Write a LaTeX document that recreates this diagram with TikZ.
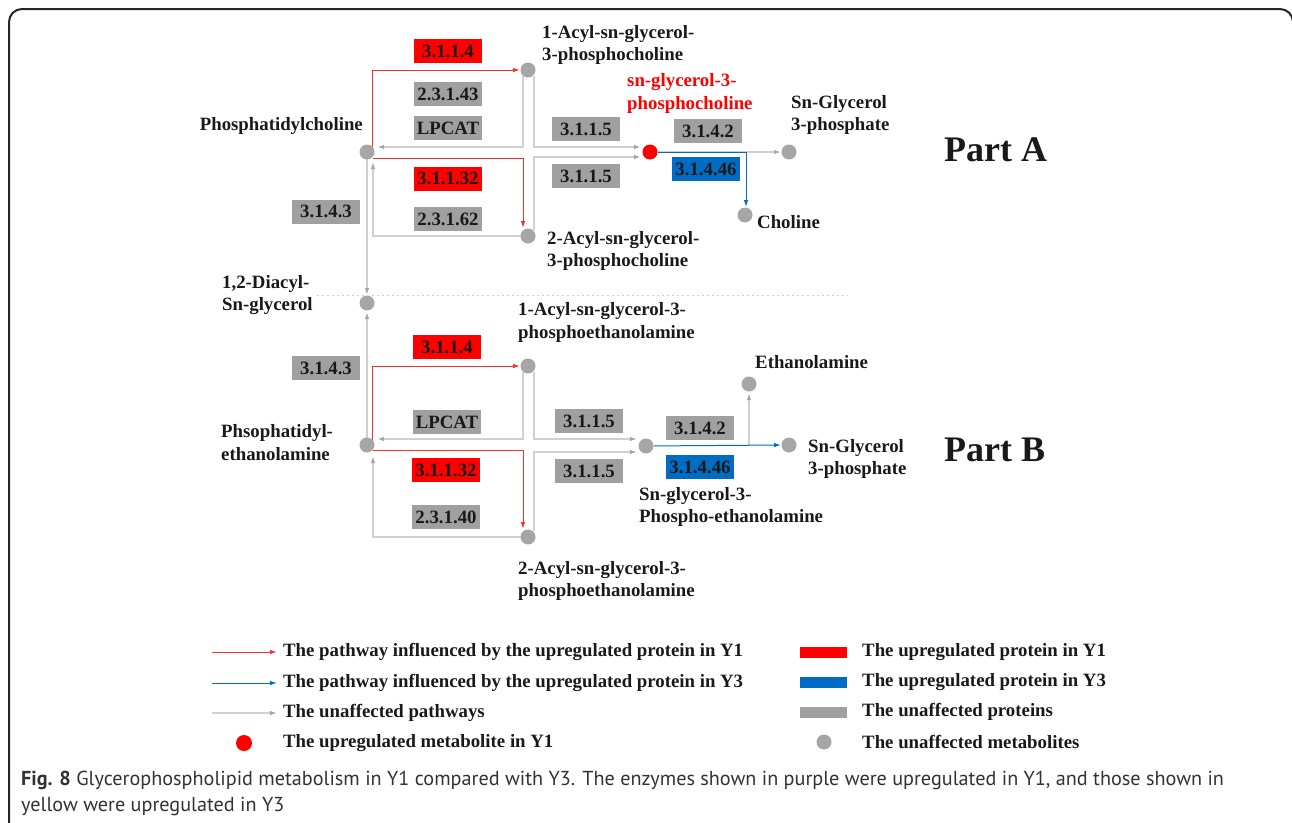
\documentclass[tikz,border=0pt]{standalone}
\usepackage{fontspec}
\setmainfont{Liberation Serif}
\newfontfamily\capfont{PT Sans}
\usetikzlibrary{arrows.meta,calc}
\definecolor{upred}{RGB}{255,0,0}
\definecolor{upblue}{RGB}{0,108,196}
\definecolor{boxgray}{RGB}{160,160,160}
\definecolor{metgray}{RGB}{166,166,166}
\definecolor{linegray}{RGB}{208,208,208}
\definecolor{tipgray}{RGB}{165,165,165}
\definecolor{redline}{RGB}{240,50,50}
\definecolor{txt}{RGB}{25,25,25}
\definecolor{captxt}{RGB}{50,50,50}
\pgfdeclarelayer{edges}
\pgfsetlayers{edges,main}
\begin{document}
\begin{tikzpicture}[x=1pt,y=-1pt,
 lbl/.style={font=\fontsize{18.8}{22.5}\selectfont\bfseries, text=txt, inner sep=0pt, align=left, anchor=west},
 enz/.style={font=\fontsize{18.8}{22}\selectfont\bfseries, text=txt, minimum width=68pt, minimum height=24pt, inner sep=1pt},
 enzr/.style={enz, fill=upred},
 enzg/.style={enz, fill=boxgray},
 enzb/.style={enz, fill=upblue},
 met/.style={circle, fill=metgray, minimum size=15pt, inner sep=0pt},
 metr/.style={met, fill=upred},
 gline/.style={draw=linegray, line width=1.6pt, -{Latex[length=7pt,width=4.5pt,color=tipgray]}},
 rline/.style={draw=redline, line width=1pt, -{Latex[length=7pt,width=4.5pt]}},
 bline/.style={draw=upblue, line width=1pt, -{Latex[length=7pt,width=4.5pt]}},
 part/.style={font=\fontsize{36}{40}\selectfont\bfseries, text=txt, anchor=west, inner sep=0pt},
 legbar/.style={minimum width=47pt, minimum height=11pt, inner sep=0pt},
]
\useasboundingbox (0,0) rectangle (1292,822);
% frame
\draw[line width=2pt, rounded corners=13pt, draw=black!85] (9,840) -- (9,9) -- (1293,9) -- (1293,840);

% metabolites
\node[met] (pc) at (367,152) {};
\node[met] (a1) at (528,70) {};
\node[met] (a2) at (528,236) {};
\node[metr] (gpc) at (650,152) {};
\node[met] (g3p) at (789,152) {};
\node[met] (cho) at (745,215) {};
\node[met] (dag) at (367,303) {};
\node[met] (pe) at (367,445) {};
\node[met] (b1) at (528,366) {};
\node[met] (b2) at (528,537) {};
\node[met] (gpe) at (646,446) {};
\node[met] (g3pb) at (789,445) {};
\node[met] (eta) at (749,384) {};

% connectors
\begin{pgfonlayer}{edges}
\draw[gline] ($(a1)+(-5,6)$) |- ($(pc)+(10,-5)$);
\draw[gline] ($(a1)+(6,6)$) |- ($(gpc)+(-9,-5)$);
\draw[gline] ($(a2)+(-7,0)$) -| ($(pc)+(6,10)$);
\draw[gline] ($(a2)+(6,-6)$) |- ($(gpc)+(-9,5)$);
\draw[gline] ($(pc)+(0,7)$) -- ($(dag)+(0,-8)$);
\draw[gline] (gpc) -- ($(g3p)+(-8,0)$);
\draw[rline] ($(pc)+(5.5,-4)$) |- ($(a1)+(-8,0)$);
\draw[rline] ($(pc)+(6,6)$) -| ($(a2)+(-5,-8)$);
\draw[bline] (gpc) -| ($(cho)+(1,-8)$);

\draw[gline] ($(b1)+(-5,6)$) |- ($(pe)+(10,-6)$);
\draw[gline] ($(b1)+(6,6)$) |- ($(gpe)+(-9,-7)$);
\draw[gline] ($(b2)+(-7,0)$) -| ($(pe)+(6,11)$);
\draw[gline] ($(b2)+(6,-6)$) |- ($(gpe)+(-9,6)$);
\draw[gline] ($(pe)+(0,-7)$) -- ($(dag)+(0,9)$);
\draw[gline] (eta |- g3pb) -- ($(eta)+(0,9)$);
\draw[rline] ($(pe)+(5.5,-4)$) |- ($(b1)+(-8,0)$);
\draw[rline] ($(pe)+(6,5)$) -| ($(b2)+(-5,-8)$);
\draw[bline] (gpe) -- ($(g3pb)+(-8,0)$);
\end{pgfonlayer}

% separator
\draw[linegray, line width=1pt, dash pattern=on 2pt off 3pt] (317,295) -- (848,295);

% enzymes part A
\node[enzr] (e1) at (448,51) {3.1.1.4};
\node[enzg] (e2) at (448,94) {2.3.1.43};
\node[enzg] (e3) at (448,128) {LPCAT};
\node[enzr] (e4) at (448,178.5) {3.1.1.32};
\node[enzg] (e5) at (448,219) {2.3.1.62};
\node[enzg] (e6) at (326,211.5) {3.1.4.3};
\node[enzg] (e7) at (586,129) {3.1.1.5};
\node[enzg] (e8) at (586,176) {3.1.1.5};
\node[enzg] (e9) at (708,131) {3.1.4.2};
\node[enzb] (e10) at (706,169) {3.1.4.46};
% enzymes part B
\node[enzr] (f1) at (447,347) {3.1.1.4};
\node[enzg] (f2) at (326,368) {3.1.4.3};
\node[enzg] (f3) at (447,422) {LPCAT};
\node[enzr] (f4) at (446,470) {3.1.1.32};
\node[enzg] (f5) at (446,517) {2.3.1.40};
\node[enzg] (f6) at (589,421) {3.1.1.5};
\node[enzg] (f7) at (589,471) {3.1.1.5};
\node[enzg] (f8) at (700,428) {3.1.4.2};
\node[enzb] (f9) at (700,467) {3.1.4.46};

% labels
\node[lbl, anchor=east] (pcl) at (363,126) {Phosphatidylcholine};
\node[lbl] (a1l) at (542,45) {1-Acyl-sn-glycerol-\\3-phosphocholine};
\node[lbl, text=upred] (gpcl) at (627,93.5) {sn-glycerol-3-\\phosphocholine};
\node[lbl] (g3pl) at (791,115) {Sn-Glycerol\\3-phosphate};
\node[lbl] (chol) at (757,222) {Choline};
\node[lbl] (a2l) at (547,251) {2-Acyl-sn-glycerol-\\3-phosphocholine};
\node[lbl] (dagl) at (222,295) {1,2-Diacyl-\\Sn-glycerol};
\node[lbl] (b1l) at (518,322.5) {1-Acyl-sn-glycerol-3-\\phosphoethanolamine};
\node[lbl] (pel) at (221,442.5) {Phsophatidyl-\\ethanolamine};
\node[lbl] (etal) at (755,362) {Ethanolamine};
\node[lbl] (g3pbl) at (808,459) {Sn-Glycerol\\3-phosphate};
\node[lbl] (gpel) at (639,507) {Sn-glycerol-3-\\Phospho-ethanolamine};
\node[lbl] (b2l) at (518,581) {2-Acyl-sn-glycerol-3-\\phosphoethanolamine};
\node[part] (parta) at (944,150) {Part A};
\node[part] (partb) at (944,450) {Part B};

% legend left
\coordinate (l1s) at (212,652); \coordinate (l1e) at (277,652);
\coordinate (l2s) at (212,683); \coordinate (l2e) at (277,683);
\coordinate (l3s) at (212,713); \coordinate (l3e) at (277,713);
\draw[rline] (l1s) -- (l1e);
\draw[bline] (l2s) -- (l2e);
\draw[gline, line width=1.2pt] (l3s) -- (l3e);
\node[lbl] (l1t) at (283,652) {The pathway influenced by the upregulated protein in Y1};
\node[lbl] (l2t) at (283,683) {The pathway influenced by the upregulated protein in Y3};
\node[lbl] (l3t) at (283,713) {The unaffected pathways};
\node[circle, fill=upred, minimum size=16pt, inner sep=0pt] (l4c) at (244,743) {};
\node[lbl] (l4t) at (283,743) {The upregulated metabolite in Y1};
% legend right
\node[legbar, fill=upred] (r1b) at (823.5,652) {};
\node[legbar, fill=upblue] (r2b) at (823.5,682) {};
\node[legbar, fill=boxgray] (r3b) at (823.5,712) {};
\node[met, minimum size=15pt] (r4c) at (824,742) {};
\node[lbl] (r1t) at (862,652) {The upregulated protein in Y1};
\node[lbl] (r2t) at (862,682) {The upregulated protein in Y3};
\node[lbl] (r3t) at (862,712) {The unaffected proteins};
\node[lbl] (r4t) at (862,742) {The unaffected metabolites};

% caption
\node[anchor=west, inner sep=0pt, font=\capfont\fontsize{20.2}{26}\selectfont, text=captxt, align=left] (cap) at (21,793) {{\bfseries Fig. 8} Glycerophospholipid metabolism in Y1 compared with Y3. The enzymes shown in purple were upregulated in Y1, and those shown in\\yellow were upregulated in Y3};
\end{tikzpicture}
\end{document}
